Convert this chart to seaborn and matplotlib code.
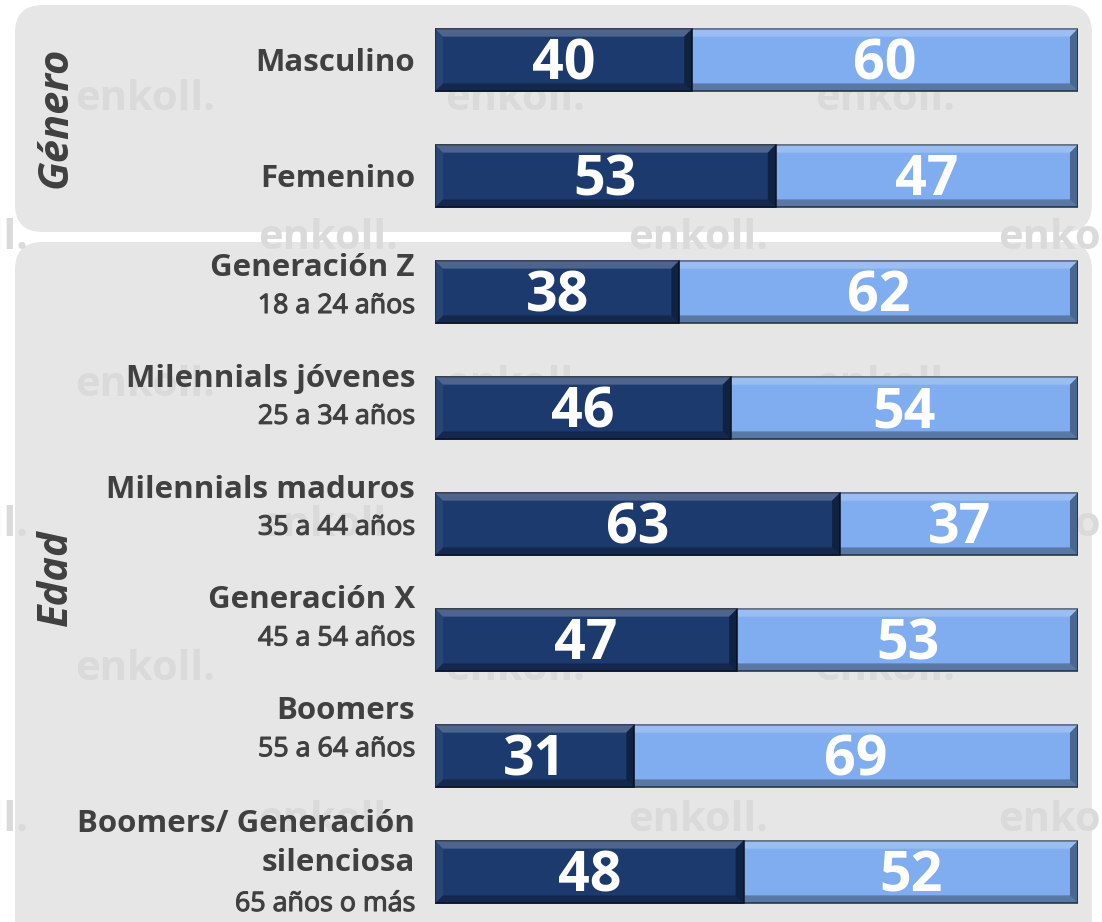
import pandas as pd
import matplotlib
matplotlib.use("Agg")
import matplotlib.pyplot as plt
import matplotlib.patheffects as pe
import seaborn as sns
from matplotlib.patches import FancyBboxPatch, Polygon

# ---- data ----
categories = ["Masculino", "Femenino", "Generación Z", "Milennials jóvenes",
              "Milennials maduros", "Generación X", "Boomers",
              "Boomers/ Generación\nsilenciosa"]
age_ranges = ["", "", "18 a 24 años", "25 a 34 años", "35 a 44 años",
              "45 a 54 años", "55 a 64 años", "65 años o más"]
dark_values = [40, 53, 38, 46, 63, 47, 31, 48]
light_values = [60, 47, 62, 54, 37, 53, 69, 52]
group_labels = ["Género", "Edad"]

DARK = "#1c3a6e"
LIGHT = "#80adef"
PANEL = "#e6e6e6"
TEXT = "#404040"
FONT = ["Open Sans", "DejaVu Sans"]

W, H = 1102, 922
sns.set_theme(style="white")
plt.rcParams["font.family"] = FONT

fig = plt.figure(figsize=(W / 100, H / 100), dpi=100)
fig.patch.set_facecolor("white")


def fx(x):
    return x / W


def fy(y):
    return 1 - y / H


# rounded grey panels
for top, bottom in [(5, 232), (242, 960)]:
    fig.patches.append(FancyBboxPatch(
        (fx(15), fy(bottom)), fx(1092) - fx(15), fy(top) - fy(bottom),
        boxstyle="round,pad=0,rounding_size=0.025",
        transform=fig.transFigure, facecolor=PANEL, edgecolor="none",
        zorder=0, mutation_aspect=W / H))

# faint watermark
wm_rows = [(100, 75), (238, -112), (385, 75), (525, -112), (670, 75), (820, -112)]
for y, x0 in wm_rows:
    for k in range(4):
        fig.text(fx(x0 + 370 * k), fy(y), "enkoll.", fontsize=30,
                 fontweight="bold", color="#dadada", va="center", ha="left",
                 zorder=0.5)

# ---- bars ----
df = pd.DataFrame({"categoria": categories,
                   "oscuro": dark_values,
                   "claro": light_values})
df["total"] = df["oscuro"] + df["claro"]

ax = fig.add_axes([fx(435), 0, fx(1078) - fx(435), 920 / H])
ax.set_facecolor("none")
ax.set_zorder(2)
sns.barplot(data=df, y="categoria", x="total", color=LIGHT, orient="h",
            width=0.543, errorbar=None, saturation=1, ax=ax,
            edgecolor="#3a4a66", linewidth=1.2)
n_light = len(ax.patches)
sns.barplot(data=df, y="categoria", x="oscuro", color=DARK, orient="h",
            width=0.543, errorbar=None, saturation=1, ax=ax,
            edgecolor="#101c33", linewidth=1.2)
ax.set_xlim(0, 100)
ax.set_ylim(7.431, -0.5)
ax.set_axis_off()

# simple bevel look on every bar
bx, by = 1.25, 0.07
for j, p in enumerate(list(ax.patches)):
    z = 1 if j < n_light else 2
    p.set_zorder(z)
    x0, y0 = p.get_x(), p.get_y()
    x1, y1 = x0 + p.get_width(), y0 + p.get_height()
    faces = [
        ([(x0, y0), (x1, y0), (x1 - bx, y0 + by), (x0 + bx, y0 + by)], "white", 0.22),
        ([(x0, y1), (x1, y1), (x1 - bx, y1 - by), (x0 + bx, y1 - by)], "black", 0.30),
        ([(x1, y0), (x1, y1), (x1 - bx, y1 - by), (x1 - bx, y0 + by)], "black", 0.40),
        ([(x0, y0), (x0, y1), (x0 + bx, y1 - by), (x0 + bx, y0 + by)], "white", 0.06),
    ]
    for pts, c, a in faces:
        ax.add_patch(Polygon(pts, closed=True, facecolor=c, alpha=a,
                             edgecolor="none", zorder=z + 0.1))

for i, (d, l) in enumerate(zip(dark_values, light_values)):
    ax.text(d / 2, i + 0.04, f"{d}", color="white", fontsize=40,
            fontweight="bold", ha="center", va="center", zorder=3)
    ax.text(d + l / 2, i + 0.04, f"{l}", color="white", fontsize=40,
            fontweight="bold", ha="center", va="center", zorder=3)

# ---- category labels ----
lx = fx(415)
semi = [pe.withStroke(linewidth=0.8, foreground="#404040")]
# gender rows: centred on the bars
for i in range(2):
    ypx = 60 + 116 * i + 3
    fig.text(lx, fy(ypx), categories[i], ha="right", va="center",
             fontsize=22.5, fontweight="bold", color=TEXT, zorder=3)

# age rows: two lines (main + age range)
for k, i in enumerate(range(2, len(categories))):
    main_y = 268 + 110.8 * k
    if "\n" in categories[i]:
        fig.text(lx, fy(main_y - 13), categories[i], ha="right", va="top",
                 fontsize=22.5, fontweight="bold", color=TEXT,
                 linespacing=1.4, zorder=3)
        sub_y = main_y + 82
    else:
        fig.text(lx, fy(main_y), categories[i], ha="right", va="center",
                 fontsize=22.5, fontweight="bold", color=TEXT, zorder=3)
        sub_y = main_y + 38
    fig.text(lx, fy(sub_y), age_ranges[i], ha="right", va="center",
             fontsize=19.3, fontweight="normal", color="#404040", zorder=3,
             path_effects=semi)

# group titles
fig.text(fx(56), fy(117), group_labels[0], rotation=90, ha="center",
         va="center", fontsize=30, fontweight="bold", style="italic",
         color=TEXT, zorder=3)
fig.text(fx(56), fy(578), group_labels[1], rotation=90, ha="center",
         va="center", fontsize=30, fontweight="bold", style="italic",
         color=TEXT, zorder=3)

fig.savefig("out.png", dpi=100, facecolor="white")
